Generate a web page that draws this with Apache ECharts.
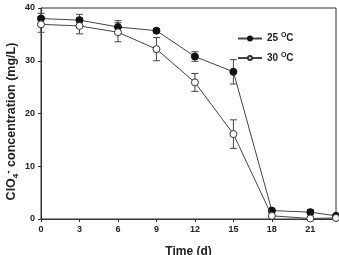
<!DOCTYPE html>
<html style="height: 100%">
<head>
<meta charset="utf-8">
<script src="https://cdn.jsdelivr.net/npm/echarts@6/dist/echarts.min.js"></script>
</head>
<body style="height: 100%; margin: 0">
<div id="container" style="width: 339px; height: 255px"></div>
<script type="text/javascript">
var days = [0, 3, 6, 9, 12, 15, 18, 21, 23];
var c25 = [38.0, 37.7, 36.4, 35.7, 30.8, 27.9, 1.6, 1.3, 0.6];
var c25err = [1.0, 1.1, 1.2, 0.3, 0.9, 2.3, 0.3, 0.5, 0.2];
var c30 = [36.9, 36.6, 35.4, 32.2, 25.9, 16.1, 0.6, 0.1, 0.2];
var c30err = [1.5, 1.5, 1.8, 2.2, 1.7, 2.7, 0.2, 0.1, 0.1];
var xTicks = [0, 3, 6, 9, 12, 15, 18, 21];

var dom = document.getElementById("container");
var myChart = echarts.init(dom);
var font = 'Liberation Sans';

function pairs(ys) {
    return days.map(function (d, i) { return [d, ys[i]]; });
}
function errData(ys, es) {
    return days.map(function (d, i) { return [d, ys[i] - es[i], ys[i] + es[i]]; });
}
function renderErr(params, api) {
    var lo = api.coord([api.value(0), api.value(1)]);
    var hi = api.coord([api.value(0), api.value(2)]);
    var w = 3.5;
    var st = { stroke: '#444', lineWidth: 1 };
    return {
        type: 'group',
        children: [
            { type: 'line', shape: { x1: lo[0], y1: lo[1], x2: hi[0], y2: hi[1] }, style: st },
            { type: 'line', shape: { x1: lo[0] - w, y1: lo[1], x2: lo[0] + w, y2: lo[1] }, style: st },
            { type: 'line', shape: { x1: hi[0] - w, y1: hi[1], x2: hi[0] + w, y2: hi[1] }, style: st }
        ]
    };
}

var option = {
    animation: false,
    textStyle: { fontFamily: font },
    grid: { left: 41, right: 3, top: 8, bottom: 36, show: true, borderColor: '#333', borderWidth: 1,
        containLabel: false, outerBoundsMode: 'none' },
    legend: {
        left: 232, top: 27, orient: 'vertical', itemGap: 8, itemWidth: 24, itemHeight: 5,
        data: ['25 °C', '30 °C'],
        formatter: function (n) { return n.split(' ')[0] + ' {s|O}C'; },
        textStyle: { fontFamily: font, fontWeight: 'bold', fontSize: 10, color: '#222',
            rich: { s: { fontSize: 7, fontWeight: 'bold', verticalAlign: 'top', padding: [0, 0, 6, 0] } } }
    },
    xAxis: {
        type: 'value', min: 0, max: 23, interval: 3,
        name: 'Time (d)', nameLocation: 'middle', nameGap: 27, nameMoveOverlap: false,
        nameTextStyle: { fontFamily: font, fontWeight: 'bold', fontSize: 12, color: '#222' },
        splitLine: { show: false },
        axisLine: { lineStyle: { color: '#333' } },
        axisTick: { length: 3, lineStyle: { color: '#333' } },
        axisLabel: { fontFamily: font, fontWeight: 'bold', fontSize: 9, color: '#222', margin: 6,
            formatter: function (v) { return xTicks.indexOf(v) >= 0 ? String(v) : ''; } }
    },
    yAxis: {
        type: 'value', min: 0, max: 40, interval: 10,
        name: 'ClO{sb|4}{sp|-} concentration (mg/L)', nameLocation: 'middle', nameGap: 21, nameRotate: 90,
        nameMoveOverlap: false,
        nameTextStyle: { fontFamily: font, fontWeight: 'bold', fontSize: 12.5, color: '#222',
            padding: [0, 16, 0, 0],
            rich: {
                sb: { fontSize: 8, fontWeight: 'bold', fontFamily: font, verticalAlign: 'bottom', padding: [7, 0, 0, 0] },
                sp: { fontSize: 10, fontWeight: 'bold', fontFamily: font, verticalAlign: 'top', padding: [0, 0, 7, 0] }
            } },
        splitLine: { show: false },
        axisLine: { show: true, lineStyle: { color: '#333' } },
        axisTick: { show: true, length: 3, lineStyle: { color: '#333' } },
        axisLabel: { fontFamily: font, fontWeight: 'bold', fontSize: 9, color: '#222', margin: 6 }
    },
    series: [
        { type: 'custom', renderItem: renderErr, data: errData(c30, c30err), z: 1 },
        { type: 'custom', renderItem: renderErr, data: errData(c25, c25err), z: 1 },
        {
            name: '25 °C', type: 'line', data: pairs(c25), symbol: 'circle', symbolSize: 7,
            lineStyle: { color: '#444', width: 1 },
            itemStyle: { color: '#111', borderColor: '#111', borderWidth: 1 }, z: 3
        },
        {
            name: '30 °C', type: 'line', data: pairs(c30), symbol: 'circle', symbolSize: 7,
            lineStyle: { color: '#444', width: 1 },
            itemStyle: { color: '#fff', borderColor: '#333', borderWidth: 1 }, z: 4
        }
    ]
};
myChart.setOption(option);
</script>
</body>
</html>
